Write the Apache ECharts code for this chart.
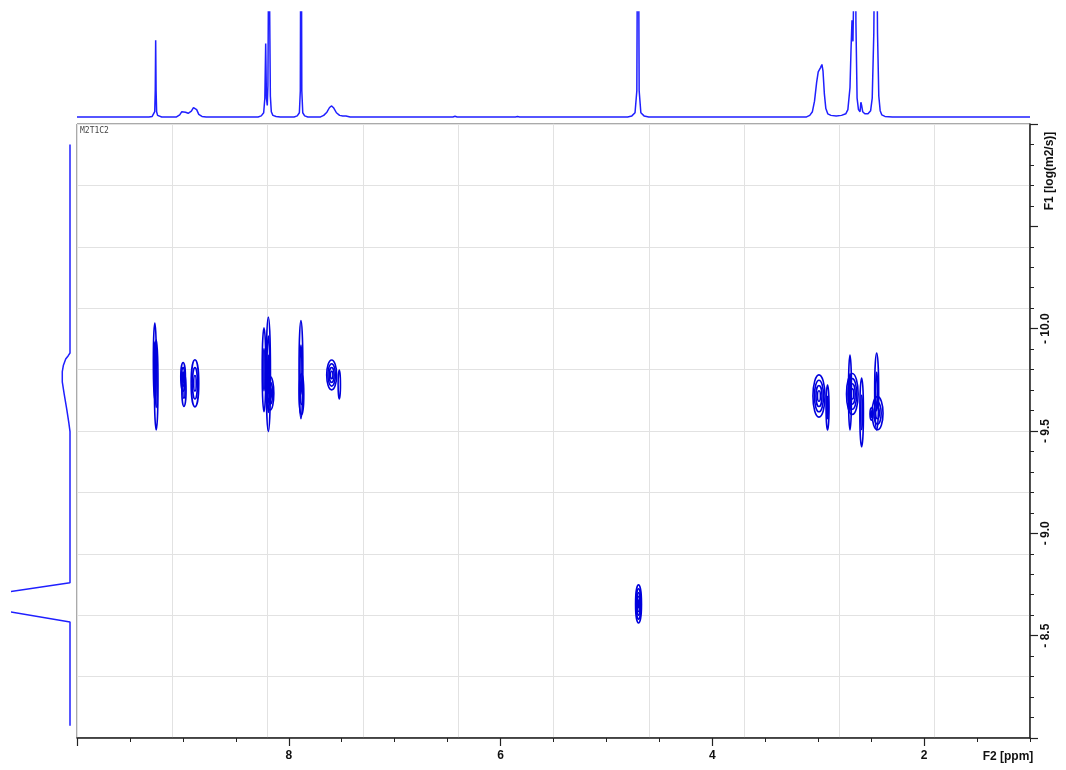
<!DOCTYPE html>
<html><head><meta charset="utf-8">
<script src="https://cdn.jsdelivr.net/npm/echarts@6/dist/echarts.min.js"></script>
<style>html,body{margin:0;padding:0;background:#fff}#c{width:1066px;height:770px}</style>
</head><body><div id="c"></div>
<script>
// ---- axis settings (ppm reversed, log D reversed) ----
const ppmRange = [1, 10];
const logDRange = [-11, -8];
const xLabelValues = [2, 4, 6, 8];
const xMajorTickValues = [2, 4, 6, 8, 10];
const sampleName = 'M2T1C2';
const xAxisTitle = 'F2 [ppm]';
const yAxisTitle = 'F1 [log(m2/s)]';

// ---- 1D projection on top: [ppm, intensity] ----
const topTrace = [
  [10.0,0],[9.32,0],[9.29,0.5],[9.275,1.5],[9.266,5],[9.261,25],[9.257,73],[9.253,25],[9.248,5],[9.239,1.5],[9.225,0.5],[9.2,0],
  [9.06,0],[9.03,2],[9.01,5],[8.996,6.7],[8.975,4.5],[8.95,3.5],[8.92,5.5],[8.9,9],[8.886,9.8],[8.87,7],[8.85,2.5],[8.82,0.5],[8.78,0],
  [8.29,0],[8.26,1],[8.237,4],[8.226,18],[8.218,70],[8.211,18],[8.203,11],[8.197,30],[8.192,120],[8.187,300],[8.182,120],[8.174,20],[8.165,5],[8.15,1.5],[8.12,0.5],[8.08,0],
  [7.95,0],[7.92,1],[7.9,4],[7.891,25],[7.884,300],[7.877,25],[7.868,4],[7.85,1],[7.82,0],
  [7.70,0],[7.67,1.5],[7.64,4.5],[7.615,9],[7.595,10.5],[7.575,8.5],[7.55,4],[7.52,1.5],[7.49,1],[7.46,0.8],[7.448,2.5],[7.44,0.5],[7.42,0],
  [6.45,0],[6.43,0.6],[6.41,0],[5.86,0],[5.84,0.4],[5.82,0],
  [4.80,0],[4.76,1],[4.73,4],[4.713,25],[4.702,300],[4.691,25],[4.675,4],[4.645,1],[4.60,0],
  [3.11,0],[3.08,1.5],[3.055,5],[3.035,15],[3.015,33],[3.0,43],[2.99,44],[2.978,47],[2.965,50],[2.955,44],[2.942,22],[2.928,8],[2.91,3],[2.88,1.5],[2.83,1],
  [2.78,1.5],[2.74,3],[2.72,7],[2.70,28],[2.69,65],[2.681,92],[2.672,72],[2.663,130],[2.653,300],[2.644,90],[2.633,18],[2.62,7],[2.605,5],[2.597,14],[2.59,11],[2.58,5],[2.56,3],[2.53,3],
  [2.505,6],[2.49,18],[2.475,80],[2.456,300],[2.44,80],[2.428,20],[2.415,6],[2.40,2],[2.37,0.5],[2.30,0],[1.0,0]
];

// ---- 1D projection on the left: [intensity, log D] ----
const sideTrace = [
  [0,-10.90],[0,-9.881],[3,-9.868],[7.4,-9.852],[11.5,-9.82],[13.3,-9.79],[13.3,-9.74],[10,-9.68],[5.7,-9.608],[2,-9.54],[0,-9.497],
  [0,-8.758],[215,-8.669],[0,-8.567],[0,-8.06]
];

// ---- 2D contour peaks: [ppm, logD, half width ppm, half height logD, rings] ----
const contours = [
  [9.265,-9.84,0.014,0.188,2],
  [9.252,-9.725,0.017,0.22,2],
  [8.998,-9.765,0.022,0.07,3],
  [8.99,-9.70,0.02,0.08,2],
  [8.886,-9.733,0.036,0.115,3],
  [8.234,-9.799,0.017,0.205,2],
  [8.193,-9.777,0.02,0.28,3],
  [8.175,-9.684,0.034,0.081,3],
  [7.885,-9.80,0.018,0.24,2],
  [7.880,-9.68,0.022,0.10,2],
  [7.595,-9.774,0.047,0.073,4],
  [7.523,-9.727,0.011,0.071,1],
  [2.993,-9.671,0.057,0.103,4],
  [2.912,-9.615,0.014,0.11,2],
  [2.678,-9.681,0.055,0.10,4],
  [2.700,-9.688,0.014,0.183,2],
  [2.590,-9.591,0.017,0.168,2],
  [2.448,-9.693,0.019,0.188,2],
  [2.44,-9.587,0.052,0.081,3],
  [2.497,-9.583,0.014,0.03,2],
  [4.697,-8.655,0.028,0.093,5]
];

const chart = echarts.init(document.getElementById('c'), null, {renderer: 'canvas'});
const specColor = '#1f1fff';
const contColor = '#0000dd';
const labelFont = {fontFamily: '"Liberation Sans Narrow", "Liberation Sans", Arial, sans-serif', fontWeight: 'bold', fontSize: 12, color: '#111'};

chart.setOption({
  animation: false,
  backgroundColor: '#fff',
  grid: [
    {left: 77, top: 124, width: 953, height: 614, show: true, borderColor: '#555', borderWidth: 1, backgroundColor: 'transparent'},
    {left: 77, top: 12, width: 953, height: 106},
    {left: 12, top: 124, width: 58, height: 614}
  ],
  xAxis: [
    {gridIndex: 0, type: 'value', min: ppmRange[0], max: ppmRange[1], inverse: true, interval: 0.5, position: 'bottom',
     axisLine: {show: true, onZero: false, lineStyle: {color: '#222', width: 1.5}},
     axisTick: {show: true, length: 4, lineStyle: {color: '#222'}},
     axisLabel: {show: false}, splitLine: {show: false}},
    {gridIndex: 0, type: 'value', min: ppmRange[0], max: ppmRange[1], inverse: true, interval: 0.5, position: 'bottom',
     axisLine: {show: false, onZero: false},
     axisTick: {show: true, length: 8, customValues: xMajorTickValues, lineStyle: {color: '#222', width: 1.2}},
     axisLabel: Object.assign({show: true, margin: 12, customValues: xLabelValues, formatter: v => String(v)}, labelFont),
     splitLine: {show: false}},
    {gridIndex: 0, type: 'value', min: 0, max: 10, interval: 1, position: 'top',
     axisLine: {show: false}, axisTick: {show: false}, axisLabel: {show: false},
     splitLine: {show: true, lineStyle: {color: '#e2e2e2', width: 1}}},
    {gridIndex: 1, type: 'value', min: ppmRange[0], max: ppmRange[1], inverse: true, show: false},
    {gridIndex: 2, type: 'value', min: 0, max: 100, inverse: true, show: false}
  ],
  yAxis: [
    {gridIndex: 0, type: 'value', min: logDRange[0], max: logDRange[1], inverse: true, interval: 0.5, position: 'right',
     axisLine: {show: true, onZero: false, lineStyle: {color: '#222', width: 1.5}},
     axisTick: {show: true, length: 8, lineStyle: {color: '#222', width: 1.2}},
     minorTick: {show: true, splitNumber: 5, length: 4, lineStyle: {color: '#222'}},
     axisLabel: Object.assign({show: true, rotate: 90, margin: 10,
       formatter: v => (v >= -10.001 && v < -8.01) ? '- ' + Math.abs(v).toFixed(1) : ''}, labelFont),
     splitLine: {show: false}},
    {gridIndex: 0, type: 'value', min: 0, max: 10, interval: 1, position: 'left',
     axisLine: {show: false}, axisTick: {show: false}, axisLabel: {show: false},
     splitLine: {show: true, lineStyle: {color: '#e2e2e2', width: 1}}},
    {gridIndex: 1, type: 'value', min: -1, max: 100, show: false},
    {gridIndex: 2, type: 'value', min: logDRange[0], max: logDRange[1], inverse: true, show: false}
  ],
  series: [
    {type: 'custom', xAxisIndex: 0, yAxisIndex: 0, clip: true, encode: {x: 0, y: 1},
     data: contours,
     renderItem: function (params, api) {
       const c = api.coord([api.value(0), api.value(1)]);
       const s = api.size([api.value(2), api.value(3)]);
       const n = api.value(4);
       const children = [];
       for (let k = 0; k < n; k++) {
         const f = 1 - k / n;
         children.push({type: 'ellipse', shape: {cx: c[0], cy: c[1], rx: Math.max(s[0] * f, 0.8), ry: Math.max(s[1] * f, 1)},
           style: {fill: 'none', stroke: contColor, lineWidth: 1.6}});
       }
       return {type: 'group', children: children};
     }},
    {type: 'line', xAxisIndex: 3, yAxisIndex: 2, data: topTrace, showSymbol: false, symbol: 'none', clip: true,
     lineStyle: {color: specColor, width: 1.5}},
    {type: 'line', xAxisIndex: 4, yAxisIndex: 3, data: sideTrace, showSymbol: false, symbol: 'none', clip: true,
     lineStyle: {color: specColor, width: 1.5}}
  ],
  graphic: [
    {type: 'text', left: 80, top: 127, style: {text: sampleName, font: '8px "DejaVu Sans Mono", monospace', fill: '#444'}},
    {type: 'text', x: 1008, y: 757, style: {text: xAxisTitle, font: 'bold 12px "Liberation Sans Narrow", "Liberation Sans", Arial, sans-serif', fill: '#111', align: 'center', verticalAlign: 'middle'}},
    {type: 'text', x: 1050, y: 171, rotation: Math.PI / 2, style: {text: yAxisTitle, font: 'bold 12px "Liberation Sans Narrow", "Liberation Sans", Arial, sans-serif', fill: '#111', align: 'center', verticalAlign: 'middle'}}
  ]
});
</script>
</body></html>
